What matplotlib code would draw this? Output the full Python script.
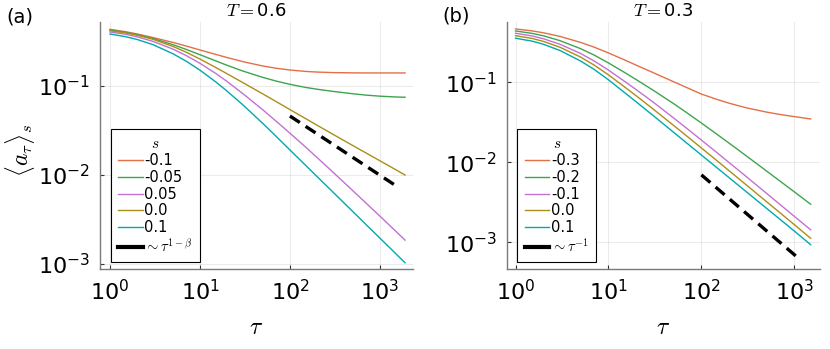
import numpy as np
import matplotlib
matplotlib.use("Agg")
import matplotlib.pyplot as plt
from matplotlib.lines import Line2D
from matplotlib.ticker import FixedLocator, FixedFormatter, NullLocator

plt.rcParams['font.family'] = ['DejaVu Sans']
plt.rcParams['mathtext.fontset'] = 'cm'
plt.rcParams['lines.scale_dashes'] = False

# Plots.jl default palette (without the first blue)
colors = ['#E36F47', '#3EA44E', '#C371D2', '#AC8E18', '#00A9AD']

# ---- panel (a), T = 0.6 : log10 <a_tau>_s
tau_a = [1, 1.5, 2, 3, 5, 7, 10, 15, 20, 30, 50, 70, 100, 150, 200, 300, 500, 700, 1000, 1500, 1900]
labels_a = ['-0.1', '-0.05', '0.05', '0.0', '0.1']
loga_1 = [-0.363, -0.39, -0.415, -0.455, -0.51, -0.55, -0.595, -0.645, -0.68, -0.726, -0.775,
          -0.80, -0.82, -0.836, -0.843, -0.849, -0.852, -0.853, -0.853, -0.853, -0.853]
loga_2 = [-0.371, -0.397, -0.422, -0.466, -0.535, -0.588, -0.648, -0.718, -0.767, -0.832, -0.903,
          -0.944, -0.981, -1.016, -1.036, -1.06, -1.087, -1.102, -1.114, -1.123, -1.126]
loga_3 = [-0.393, -0.419, -0.447, -0.498, -0.585, -0.657, -0.745, -0.859, -0.949, -1.086, -1.268,
          -1.394, -1.53, -1.688, -1.803, -1.967, -2.176, -2.315, -2.462, -2.631, -2.731]
loga_4 = [-0.379, -0.404, -0.429, -0.475, -0.555, -0.619, -0.697, -0.792, -0.862, -0.962, -1.089,
          -1.174, -1.265, -1.367, -1.44, -1.542, -1.669, -1.752, -1.84, -1.94, -2.0]
loga_5 = [-0.416, -0.446, -0.477, -0.535, -0.637, -0.72, -0.822, -0.954, -1.057, -1.212, -1.421,
          -1.564, -1.719, -1.893, -2.017, -2.191, -2.411, -2.556, -2.709, -2.883, -2.986]
guide_tau_a = [100, 1500]
guide_val_a = [0.046, 0.0076]

# ---- panel (b), T = 0.3
tau_b = [1, 1.5, 2, 3, 5, 7, 10, 15, 20, 30, 50, 70, 100, 150, 200, 300, 500, 700, 1000, 1500]
labels_b = ['-0.3', '-0.2', '-0.1', '0.0', '0.1']
logb_1 = [-0.331, -0.355, -0.379, -0.424, -0.499, -0.558, -0.631, -0.72, -0.785, -0.875, -0.99,
          -1.065, -1.145, -1.215, -1.26, -1.315, -1.37, -1.40, -1.427, -1.456]
logb_2 = [-0.356, -0.386, -0.417, -0.477, -0.577, -0.657, -0.756, -0.877, -0.966, -1.094, -1.263,
          -1.38, -1.507, -1.655, -1.761, -1.912, -2.105, -2.232, -2.367, -2.522]
logb_3 = [-0.385, -0.418, -0.454, -0.522, -0.637, -0.731, -0.845, -0.988, -1.092, -1.242, -1.442,
          -1.576, -1.72, -1.885, -2.004, -2.171, -2.384, -2.524, -2.673, -2.842]
logb_4 = [-0.415, -0.449, -0.487, -0.559, -0.682, -0.782, -0.905, -1.058, -1.169, -1.329, -1.535,
          -1.672, -1.819, -1.986, -2.106, -2.275, -2.488, -2.628, -2.777, -2.948]
logb_5 = [-0.447, -0.483, -0.523, -0.60, -0.731, -0.836, -0.967, -1.129, -1.245, -1.41, -1.621,
          -1.76, -1.907, -2.074, -2.193, -2.36, -2.571, -2.71, -2.857, -3.028]
guide_tau_b = [100, 1100]
guide_val_b = [0.0070, 0.00064]

xticks = [1, 10, 100, 1000]
xticklabels = [r'$\mathregular{10^{%d}}$' % k for k in range(4)]
yticks = [1e-3, 1e-2, 1e-1]
yticklabels = [r'$\mathregular{10^{%d}}$' % k for k in (-3, -2, -1)]

fig = plt.figure(figsize=(8.3, 3.49), dpi=100)
W, H = 830, 349


def make_axes(x0, x1, y0, y1):
    return fig.add_axes([x0 / W, 1 - y1 / H, (x1 - x0) / W, (y1 - y0) / H])


def style(ax, xlim, ylim):
    ax.set_xscale('log')
    ax.set_yscale('log')
    ax.set_xlim(*xlim)
    ax.set_ylim(*ylim)
    ax.xaxis.set_major_locator(FixedLocator(xticks))
    ax.xaxis.set_major_formatter(FixedFormatter(xticklabels))
    ax.yaxis.set_major_locator(FixedLocator(yticks))
    ax.yaxis.set_major_formatter(FixedFormatter(yticklabels))
    ax.xaxis.set_minor_locator(NullLocator())
    ax.yaxis.set_minor_locator(NullLocator())
    ax.grid(True, color='#000000', alpha=0.08, lw=0.8)
    ax.set_axisbelow(True)
    for sp in ['top', 'right']:
        ax.spines[sp].set_visible(False)
    for sp in ['left', 'bottom']:
        ax.spines[sp].set_color('#7a7a7a')
        ax.spines[sp].set_linewidth(1.0)
    ax.tick_params(direction='in', length=3, width=0.8, color='#333333',
                   labelsize=16, pad=7)


def legend(ax, labels, guide_label, anchor):
    handles = [Line2D([], [], color=c, lw=1.0) for c in colors]
    handles.append(Line2D([], [], color='black', lw=3))
    leg = ax.legend(handles, labels + [guide_label], title=r'$s$', loc='lower left',
                    bbox_to_anchor=anchor, borderaxespad=0, fontsize=10.5, title_fontsize=11,
                    handlelength=1.7, handletextpad=0.1, labelspacing=0.12,
                    borderpad=0.5, fancybox=False, framealpha=1, edgecolor='black')
    leg.get_frame().set_linewidth(0.8)
    return leg


# panel (a)
axa = make_axes(100, 413, 22, 269)
for c, vals in zip(colors, [loga_1, loga_2, loga_3, loga_4, loga_5]):
    axa.plot(tau_a, 10 ** np.array(vals), color=c, lw=1.0)
axa.plot(guide_tau_a, guide_val_a, color='black', lw=2.4, dashes=(8.5, 5.0))
style(axa, (0.774, 2330), (8.8e-4, 0.524))
axa.set_title(r'$T = $0.6', fontsize=13, pad=4)
axa.set_xlabel(r'$\tau$', fontsize=17)
axa.xaxis.set_label_coords(0.5, -0.235)
axa.xaxis.label.set_va('center')
axa.set_ylabel(r'$\langle a_\tau \rangle_s$', fontsize=17)
axa.yaxis.set_label_coords(-0.255, 0.48)
axa.yaxis.label.set_va('center')
legend(axa, labels_a, r'$\sim \tau^{1-\beta}$', (0.035, 0.028))

# panel (b)
axb = make_axes(507, 820, 22, 269)
for c, vals in zip(colors, [logb_1, logb_2, logb_3, logb_4, logb_5]):
    axb.plot(tau_b, 10 ** np.array(vals), color=c, lw=1.0)
axb.plot(guide_tau_b, guide_val_b, color='black', lw=2.4, dashes=(8.5, 5.0))
style(axb, (0.809, 1890), (4.66e-4, 0.57))
axb.set_title(r'$T = $0.3', fontsize=13, pad=4)
axb.set_xlabel(r'$\tau$', fontsize=17)
axb.xaxis.set_label_coords(0.5, -0.235)
axb.xaxis.label.set_va('center')
legend(axb, labels_b, r'$\sim \tau^{-1}$', (0.033, 0.028))

fig.text(20 / W, 1 - 17 / H, '(a)', fontsize=14, ha='center', va='center')
fig.text(456 / W, 1 - 16 / H, '(b)', fontsize=14, ha='center', va='center')

fig.savefig('out.png', dpi=100)
